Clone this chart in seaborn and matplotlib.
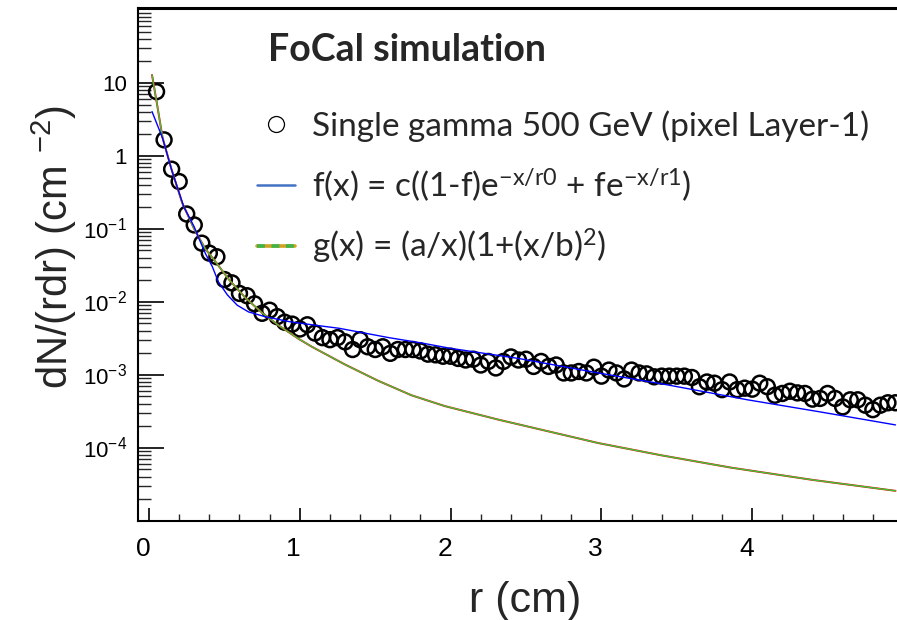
import numpy as np
import pandas as pd
import matplotlib
matplotlib.use("Agg")
import matplotlib.pyplot as plt
import matplotlib.transforms as mtransforms
from matplotlib.lines import Line2D
from matplotlib.legend_handler import HandlerTuple
from matplotlib.ticker import LogLocator, NullFormatter, MultipleLocator
import seaborn as sns

# ---------------- data ----------------
r_cm = [0.05, 0.10, 0.15, 0.20, 0.25, 0.30, 0.35, 0.40, 0.45, 0.50,
        0.55, 0.60, 0.65, 0.70, 0.75, 0.80, 0.85, 0.90, 0.95, 1.00,
        1.05, 1.10, 1.15, 1.20, 1.25, 1.30, 1.35, 1.40, 1.45, 1.50,
        1.55, 1.60, 1.65, 1.70, 1.75, 1.80, 1.85, 1.90, 1.95, 2.00,
        2.05, 2.10, 2.15, 2.20, 2.25, 2.30, 2.35, 2.40, 2.45, 2.50,
        2.55, 2.60, 2.65, 2.70, 2.75, 2.80, 2.85, 2.90, 2.95, 3.00,
        3.05, 3.10, 3.15, 3.20, 3.25, 3.30, 3.35, 3.40, 3.45, 3.50,
        3.55, 3.60, 3.65, 3.70, 3.75, 3.80, 3.85, 3.90, 3.95, 4.00,
        4.05, 4.10, 4.15, 4.20, 4.25, 4.30, 4.35, 4.40, 4.45, 4.50,
        4.55, 4.60, 4.65, 4.70, 4.75, 4.80, 4.85, 4.90, 4.95]
dndr = [7.50, 1.64, 0.65, 0.44, 0.158, 0.112, 0.063, 0.046, 0.041, 0.020,
        0.018, 0.0129, 0.0120, 0.0093, 0.0069, 0.0076, 0.0062, 0.0052, 0.0049, 0.0042,
        0.0048, 0.0037, 0.0032, 0.0030, 0.0032, 0.0028, 0.0022, 0.0030, 0.0024, 0.0022,
        0.0024, 0.00195, 0.0022, 0.0022, 0.0022, 0.0021, 0.0019, 0.00186, 0.00178, 0.00178,
        0.00166, 0.00158, 0.00162, 0.00135, 0.00151, 0.00123, 0.00151, 0.00174, 0.00158, 0.00162,
        0.00129, 0.00151, 0.00129, 0.00135, 0.00105, 0.00105, 0.00110, 0.00105, 0.00126, 0.00095,
        0.00115, 0.00105, 0.00087, 0.00115, 0.00105, 0.00102, 0.00093, 0.00095, 0.00095, 0.00095,
        0.00095, 0.00091, 0.00068, 0.00079, 0.00076, 0.00062, 0.00079, 0.00062, 0.00065, 0.00063,
        0.00076, 0.00068, 0.00052, 0.00055, 0.00059, 0.00056, 0.00055, 0.00046, 0.00047, 0.00055,
        0.00047, 0.00036, 0.00045, 0.00045, 0.00038, 0.00033, 0.00038, 0.00041, 0.00041]

# fit f(x): double exponential (blue)
f_r = [0.02, 0.09, 0.15, 0.23, 0.30, 0.33, 0.375, 0.42, 0.46, 0.52, 0.585, 0.66,
       0.77, 0.93, 1.08, 1.26, 1.37, 1.59, 1.81, 1.99, 2.45, 2.98, 3.44, 3.97, 4.44, 4.95]
f_val = [4.0, 1.73, 0.635, 0.20, 0.105, 0.074, 0.045, 0.030, 0.0186, 0.0123, 0.0089, 0.0072,
         0.0062, 0.0053, 0.0048, 0.0043, 0.0039, 0.0032, 0.0027, 0.0023, 0.00166, 0.00105,
         0.00072, 0.00045, 0.00031, 0.000204]

# fit g(x) (red/green)
g_r = [0.02, 0.055, 0.09, 0.15, 0.22, 0.30, 0.375, 0.42, 0.53, 0.64, 0.75, 0.86,
       0.99, 1.08, 1.30, 1.52, 1.74, 1.96, 2.32, 2.98, 3.40, 3.86, 4.40, 4.95]
g_val = [12.7, 4.8, 1.75, 0.64, 0.225, 0.098, 0.052, 0.040, 0.020, 0.0112, 0.0070, 0.0047,
         0.0031, 0.0024, 0.00137, 0.00082, 0.00052, 0.00037, 0.00024, 0.000115, 7.8e-5,
         5.3e-5, 3.6e-5, 2.55e-5]

x_ticks = [0, 1, 2, 3, 4]
x_tick_labels = ["0", "1", "2", "3", "4"]
y_ticks = [1e-4, 1e-3, 1e-2, 1e-1, 1, 10]
y_tick_labels = ["10$^{-4}$", "10$^{-3}$", "10$^{-2}$", "10$^{-1}$", "1", "10"]

legend_labels = ["Single gamma 500 GeV (pixel Layer-1)",
                 r"f(x) = c((1-f)e$^{-x/r0}$ + fe$^{-x/r1}$)",
                 r"g(x) = (a/x)(1+(x/b)$^{2}$)"]
title_text = "FoCal simulation"

# ---------------- style ----------------
sns.set_theme(style="ticks")
plt.rcParams['font.family'] = ['Liberation Sans', 'DejaVu Sans']
plt.rcParams['mathtext.default'] = 'regular'
plt.rcParams['axes.facecolor'] = 'white'
plt.rcParams['figure.facecolor'] = 'white'

W, H = 897, 620
fig = plt.figure(figsize=(W / 100, H / 100), dpi=100)
ax_l, ax_r, ax_t, ax_b = 138, 900, 8, 520.5
ax = fig.add_axes([ax_l / W, (H - ax_b) / H, (ax_r - ax_l) / W, (ax_b - ax_t) / H])

df = pd.DataFrame({"r": r_cm, "v": dndr})
sns.scatterplot(data=df, x="r", y="v", marker="o", s=115, facecolor="none",
                edgecolor="black", linewidth=1.8, ax=ax, zorder=2)
sns.lineplot(x=g_r, y=g_val, color="red", lw=1.4, ax=ax, zorder=3)
sns.lineplot(x=g_r, y=g_val, color="#3CC43C", lw=1.0, ax=ax, zorder=4)
sns.lineplot(x=f_r, y=f_val, color="blue", lw=1.0, ax=ax, zorder=5)

ax.set_yscale("log")
ax.set_xlim(-0.073, 4.98)
ax.set_ylim(1e-5, 1.05e2)

ax.set_xticks(x_ticks, labels=x_tick_labels)
ax.xaxis.set_minor_locator(MultipleLocator(0.2))
ax.set_yticks(y_ticks, labels=y_tick_labels)
ax.yaxis.set_minor_locator(LogLocator(base=10, subs=np.arange(2, 10), numticks=30))
ax.yaxis.set_minor_formatter(NullFormatter())

ax.tick_params(axis="x", which="major", direction="in", length=9.5, width=1.2,
               labelsize=19, pad=12, top=False, colors="black")
ax.tick_params(axis="x", which="minor", direction="in", length=5, width=1.0, top=False)
ax.tick_params(axis="y", which="major", direction="in", length=18.5, width=1.2,
               labelsize=16, pad=8, right=False, colors="black")
ax.tick_params(axis="y", which="minor", direction="in", length=9, width=1.0, right=False)

shift = mtransforms.ScaledTranslation(-6 / 100, 0, fig.dpi_scale_trans)
for lbl in ax.get_xticklabels():
    lbl.set_transform(lbl.get_transform() + shift)

ax.spines["right"].set_visible(False)
ax.spines["top"].set_linewidth(2.2)
ax.spines["left"].set_linewidth(1.5)
ax.spines["bottom"].set_linewidth(1.5)
for s in ax.spines.values():
    s.set_color("black")

ax.set_ylabel(r"dN/(rdr) (cm $^{-2}$)", fontsize=30)
ax.yaxis.set_label_coords(-0.078, 0.534)
ax.set_xlabel("r (cm)", fontsize=31)
ax.xaxis.set_label_coords(0.508, -0.118)

handles = [
    Line2D([], [], ls="none", marker="o", ms=11.5, mfc="none", mec="black", mew=0.9),
    Line2D([], [], color="#4472C4", lw=1.8),
    (Line2D([], [], color="#D4A020", lw=2.6),
     Line2D([], [], color="#3DB54A", lw=2.6, dashes=(2.2, 1.8))),
]
ax.legend(handles, legend_labels, loc="upper left", bbox_to_anchor=(0.156, 0.80),
          frameon=False, prop={"family": "Lato", "size": 24}, handlelength=1.15,
          handletextpad=0.5, labelspacing=0.71, borderpad=0, borderaxespad=0,
          handler_map={tuple: HandlerTuple(ndivide=1)})

ax.text(0.171, 0.918, title_text, transform=ax.transAxes, fontsize=27,
        fontweight="bold", family="Lato", va="center", ha="left")

fig.savefig("out.png", dpi=100)
